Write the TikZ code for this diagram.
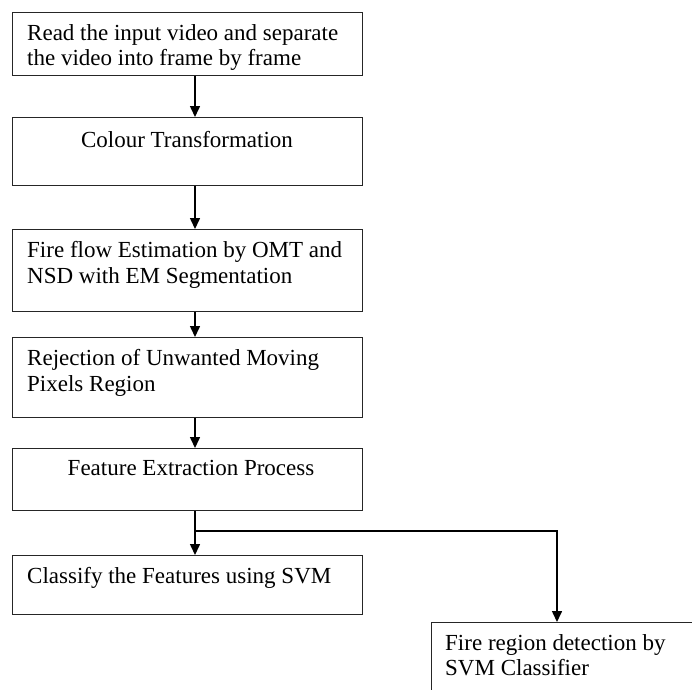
\documentclass[tikz,border=0pt]{standalone}
\usepackage{fontspec}
\setmainfont{Liberation Serif}
\usetikzlibrary{arrows.meta,calc}
\begin{document}
\begin{tikzpicture}[x=1pt,y=-1pt,
  box/.style={draw=black!85,line width=1.2pt,rectangle,inner sep=0pt,anchor=north west},
  txt/.style={inner sep=0pt,anchor=base west,font=\fontsize{23}{25}\selectfont},
  ctxt/.style={inner sep=0pt,anchor=base,font=\fontsize{23}{25}\selectfont},
  arr/.style={line width=1.5pt,-{Triangle[length=11pt,width=10pt]}},
  ln/.style={line width=1.2pt}]
\useasboundingbox (0,0) rectangle (692,689);
\clip (0,0) rectangle (692,689);
\fill[white] (0,0) rectangle (692,689);
% boxes
\node[box,minimum width=350,minimum height=63] (b1) at (12,12) {};
\node[box,minimum width=350,minimum height=68] (b2) at (12,117) {};
\node[box,minimum width=350,minimum height=82] (b3) at (12,229) {};
\node[box,minimum width=350,minimum height=80] (b4) at (12,337) {};
\node[box,minimum width=350,minimum height=62] (b5) at (12,448) {};
\node[box,minimum width=350,minimum height=59] (b6) at (12,555) {};
\node[box,minimum width=320,minimum height=120] (b7) at (431,622) {};
% texts
\node[txt] (t1a) at (27,40) {Read the input video and separate};
\node[txt] (t1b) at (27,65) {the video into frame by frame};
\node[ctxt] (t2) at (187,147) {Colour Transformation};
\node[txt] (t3a) at (27,257) {Fire flow Estimation by OMT and};
\node[txt] (t3b) at (27,283) {NSD with EM Segmentation};
\node[txt] (t4a) at (27,365) {Rejection of Unwanted Moving};
\node[txt] (t4b) at (27,391) {Pixels Region};
\node[ctxt] (t5) at (191,475) {Feature Extraction Process};
\node[txt] (t6) at (27,583) {Classify the Features using SVM};
\node[txt] (t7a) at (445,650) {Fire region detection by};
\node[txt] (t7b) at (445,675) {SVM Classifier};
% connectors
\coordinate (ax) at (195,0);
\coordinate (j) at (195,531);
\coordinate (k) at (557,0);
\draw[arr] (b1.south -| ax) -- (b2.north -| ax);
\draw[arr] (b2.south -| ax) -- (b3.north -| ax);
\draw[arr] (b3.south -| ax) -- (b4.north -| ax);
\draw[arr] (b4.south -| ax) -- (b5.north -| ax);
\draw[arr] (b5.south -| ax) -- (b6.north -| ax);
\draw[arr] (j) -| (b7.north west -| k);
\end{tikzpicture}
\end{document}
